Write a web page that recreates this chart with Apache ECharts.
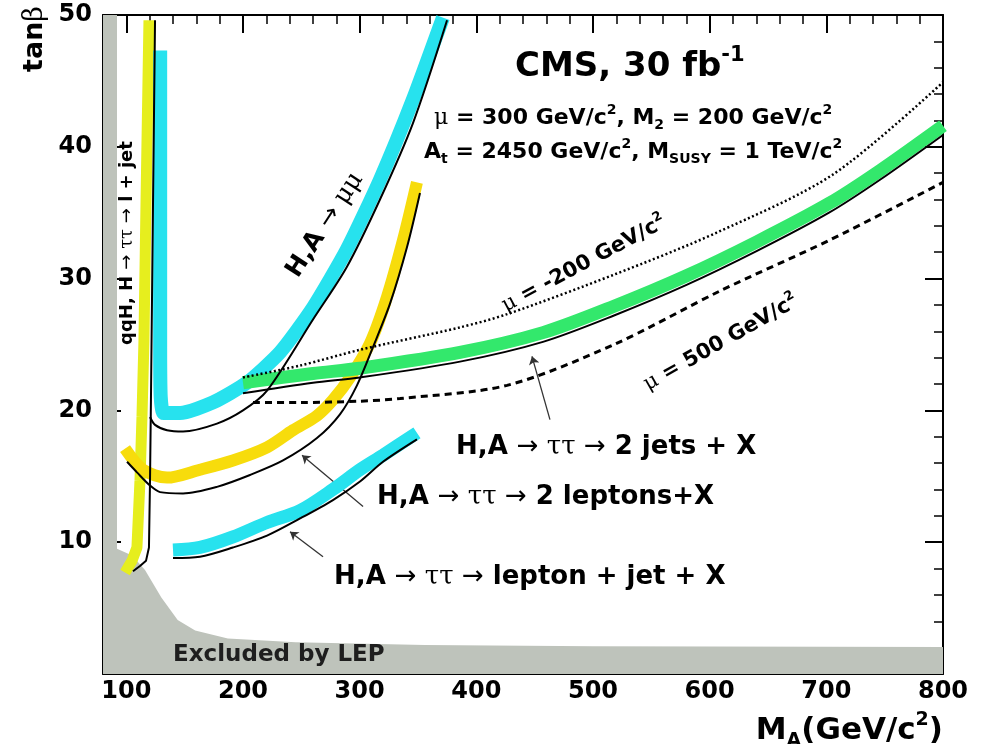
<!DOCTYPE html>
<html>
<head>
<meta charset="utf-8">
<script src="https://cdn.jsdelivr.net/npm/echarts@6/dist/echarts.min.js"></script>
<style>
  html, body { margin: 0; padding: 0; background: #fff; }
  #chart { width: 985px; height: 744px; }
</style>
</head>
<body>
<div id="chart"></div>
<script>
// tick values
var xMajorTicks = [100, 200, 300, 400, 500, 600, 700, 800];

// LEP excluded region (upper boundary)
var lepM   = [80, 92, 92, 105, 116, 130, 144, 159, 187, 245, 356, 500, 800];
var lepTan = [50, 50, 9.5, 9.0, 7.9, 5.8, 4.1, 3.3, 2.7, 2.4, 2.2, 2.1, 2.05];

// qqH, H -> tautau -> l + jet (yellow band + black contour)
var qqM        = [119.4, 116.9, 115.1, 113.4, 111.7, 109.1, 104.9, 98.9];
var qqTan      = [49.6, 36, 25.3, 19.5, 14.7, 9.6, 8.6, 7.7];
var qqBlackM   = [124.6, 122.9, 121.1, 120.3, 119.4, 116.9, 111.7, 105.7];
var qqBlackTan = [49.6, 36, 20.8, 14.7, 9.6, 8.6, 8.2, 7.8];

// H,A -> mumu
var mumuM        = [129, 129, 129, 129.5, 132, 146, 174.3, 203.4, 231.7, 260, 289, 317.4, 345.7, 371.4];
var mumuTan      = [47.3, 36, 25, 21, 19.8, 19.8, 20.6, 22.1, 24.4, 27.8, 32.2, 37.5, 43.6, 49.8];
var mumuBlackM   = [120.3, 124.6, 134.9, 148.6, 177.7, 200, 220.6, 260, 289.1, 317.4, 345.7, 374.9];
var mumuBlackTan = [19.5, 18.9, 18.5, 18.4, 19.0, 20.0, 21.5, 26.9, 30.9, 36.0, 41.8, 49.6];

// H,A -> tautau -> 2 leptons + X
var llM        = [98.9, 114.3, 134.9, 163.1, 191.4, 220.6, 242.9, 263.4, 277.1, 291.7, 308.9, 323.4, 337.1, 349.1];
var llTan      = [17.1, 15.5, 14.9, 15.5, 16.2, 17.2, 18.5, 19.6, 20.8, 22.5, 25.1, 28.6, 32.9, 37.3];
var llBlackM   = [100.6, 109.1, 120.3, 128.9, 148.6, 177.7, 206, 234.3, 263.4, 283.1, 297.7, 311.4, 326, 340.6, 351.7];
var llBlackTan = [16.1, 15.3, 14.3, 13.8, 13.7, 14.2, 15.1, 16.2, 17.9, 19.7, 21.9, 24.8, 28.1, 32.4, 36.5];

// H,A -> tautau -> lepton + jet + X
var ljM        = [140, 163.1, 191.4, 220.6, 248.9, 277.1, 300.3, 320, 349.1];
var ljTan      = [9.4, 9.6, 10.4, 11.5, 12.4, 14.0, 15.5, 16.6, 18.3];
var ljBlackTan = [8.8, 8.9, 9.6, 10.5, 11.8, 13.2, 14.6, 16.1, 17.8];

// H,A -> tautau -> 2 jets + X
var jjM        = [200, 260, 300.3, 386, 457.1, 518, 579.7, 640.6, 702.3, 746, 800];
var jjTan      = [22.1, 22.8, 23.2, 24.4, 25.9, 27.9, 30.2, 32.8, 35.7, 38.2, 41.6];
var jjBlackTan = [21.3, 22.1, 22.5, 23.7, 25.2, 27.2, 29.5, 32.1, 35.0, 37.5, 40.9];

// mu = -200 (dotted) and mu = 500 (dashed) variants
var muNegM   = [200, 248.9, 300.3, 386, 426.3, 518, 606.3, 705.7, 800];
var muNegTan = [22.5, 23.4, 24.6, 26.3, 27.3, 30.3, 33.5, 37.9, 44.9];
var mu500M   = [208.6, 248.9, 300.3, 334.6, 426.3, 518, 609.7, 702.3, 800];
var mu500Tan = [20.6, 20.6, 20.7, 20.9, 21.9, 25.0, 29.1, 32.9, 37.3];

// pointer arrows [from, to]
var arrowFrom = [[463.1, 19.3], [302.9, 12.7], [268.6, 8.9]];
var arrowTo   = [[447.7, 24.1], [250.6, 16.6], [240.3, 10.8]];

function zip(xs, ys) {
  return xs.map(function (x, i) { return [x, ys[i]]; });
}

function richStyles(size) {
  var lh = Math.round(size * 1.3);
  var small = Math.round(size * 0.62);
  return {
    b:   { fontFamily: 'DejaVu Sans', fontWeight: 'bold', fontSize: size, lineHeight: lh, fill: '#000' },
    g:   { fontFamily: 'DejaVu Serif', fontWeight: 'normal', fontSize: size, lineHeight: lh, fill: '#000' },
    a:   { fontFamily: 'DejaVu Sans', fontWeight: 'normal', fontSize: size, lineHeight: lh, fill: '#000' },
    sup: { fontFamily: 'DejaVu Sans', fontWeight: 'bold', fontSize: small, verticalAlign: 'top', fill: '#000' },
    sub: { fontFamily: 'DejaVu Sans', fontWeight: 'bold', fontSize: small, verticalAlign: 'bottom', fill: '#000' },
    lep: { fontFamily: 'DejaVu Sans', fontWeight: 'bold', fontSize: size, lineHeight: lh, fill: '#1e1e1e' }
  };
}

var labels = [
  { text: '{b|tan}{g|β}', x: 35, y: 39, size: 27, align: 'center', rot: 90 },
  { text: '{b|qqH, H }{a|→}{g| ττ }{a|→}{b| l + jet}', x: 127, y: 243, size: 18, align: 'center', rot: 90 },
  { text: '{b|H,A }{a|→}{g| μμ}', x: 325, y: 225, size: 25, align: 'center', rot: 57 },
  { text: '{b|CMS, 30 fb}{sup|-1}', x: 515, y: 67, size: 34, align: 'left', rot: 0 },
  { text: '{g|μ}{b| = 300 GeV/c}{sup|2}{b|, M}{sub|2}{b| = 200 GeV/c}{sup|2}', x: 434, y: 118, size: 22, align: 'left', rot: 0 },
  { text: '{b|A}{sub|t}{b| = 2450 GeV/c}{sup|2}{b|, M}{sub|SUSY}{b| = 1 TeV/c}{sup|2}', x: 424, y: 152, size: 22, align: 'left', rot: 0 },
  { text: '{g|μ}{b| = -200 GeV/c}{sup|2}', x: 584, y: 264, size: 21, align: 'center', rot: 28 },
  { text: '{g|μ}{b| = 500 GeV/c}{sup|2}', x: 721, y: 343, size: 21, align: 'center', rot: 29.5 },
  { text: '{b|H,A }{a|→}{g| ττ }{a|→}{b| 2 jets + X}', x: 456, y: 447, size: 26, align: 'left', rot: 0 },
  { text: '{b|H,A }{a|→}{g| ττ }{a|→}{b| 2 leptons+X}', x: 377, y: 497, size: 26, align: 'left', rot: 0 },
  { text: '{b|H,A }{a|→}{g| ττ }{a|→}{b| lepton + jet + X}', x: 334, y: 577, size: 26, align: 'left', rot: 0 },
  { text: '{lep|Excluded by LEP}', x: 173, y: 655, size: 23, align: 'left', rot: 0 },
  { text: '{b|M}{sub|A}{b|(GeV/c}{sup|2}{b|)}', x: 943, y: 731, size: 31, align: 'right', rot: 0 }
];

var chart = echarts.init(document.getElementById('chart'), null, { renderer: 'canvas' });

var tickFont = { fontFamily: 'DejaVu Sans', fontWeight: 'bold', fontSize: 24, color: '#000' };
var frameLine = { onZero: false, lineStyle: { color: '#000', width: 2 } };

function xAxisPair(pos, withLabels) {
  return [
    {
      type: 'value', position: pos, min: 80, max: 800, interval: 20,
      axisLine: frameLine,
      axisTick: { inside: true, length: 9, lineStyle: { color: '#000', width: 1.5 } },
      axisLabel: withLabels ? Object.assign({
        margin: 6,
        formatter: function (v) { return v % 100 === 0 ? String(v) : ''; }
      }, tickFont) : { show: false },
      splitLine: { show: false }
    },
    {
      type: 'value', position: pos, min: 80, max: 800,
      axisLine: { show: false, onZero: false },
      axisTick: { inside: true, length: 18, customValues: xMajorTicks, lineStyle: { color: '#000', width: 2 } },
      axisLabel: { show: false },
      splitLine: { show: false }
    }
  ];
}

function yAxisDef(pos, withLabels) {
  return {
    type: 'value', position: pos, min: 0, max: 50, interval: 10,
    axisLine: frameLine,
    axisTick: { inside: true, length: 18, lineStyle: { color: '#000', width: 2 } },
    minorTick: { show: true, splitNumber: 5, length: 9, lineStyle: { color: '#000', width: 1.5 } },
    axisLabel: withLabels ? Object.assign({
      margin: 11,
      formatter: function (v) { return v === 0 ? '' : String(v); }
    }, tickFont) : { show: false },
    splitLine: { show: false },
    minorSplitLine: { show: false }
  };
}

function band(name, xs, ys, color, width, smooth) {
  return {
    name: name, type: 'line', data: zip(xs, ys), symbol: 'none', smooth: smooth,
    lineStyle: { color: color, width: width }, silent: true
  };
}

function contour(name, xs, ys, type, width, smooth) {
  return {
    name: name, type: 'line', data: zip(xs, ys), symbol: 'none', smooth: smooth,
    lineStyle: { color: '#000', width: width, type: type }, silent: true
  };
}

var option = {
  backgroundColor: '#fff',
  animation: false,
  grid: { left: 103, right: 42, top: 15, bottom: 70, containLabel: false },
  xAxis: xAxisPair('bottom', true).concat(xAxisPair('top', false)),
  yAxis: [yAxisDef('left', true), yAxisDef('right', false)],
  series: [
    {
      name: 'Excluded by LEP', type: 'line', data: zip(lepM, lepTan), symbol: 'none',
      lineStyle: { width: 0 }, areaStyle: { color: '#bec3bb', opacity: 1 }, silent: true
    },
    band('qqH yellow', qqM, qqTan, '#e6ee1e', 11, false),
    band('2 leptons yellow', llM, llTan, '#f7dc0c', 12, 0.3),
    band('mumu cyan', mumuM, mumuTan, '#27e2ee', 14, 0.2),
    band('lepton jet cyan', ljM, ljTan, '#27e2ee', 13, 0.3),
    band('2 jets green', jjM, jjTan, '#33e86c', 13, 0.3),
    contour('qqH line', qqBlackM, qqBlackTan, 'solid', 2, false),
    contour('mumu line', mumuBlackM, mumuBlackTan, 'solid', 2, 0.3),
    contour('2 leptons line', llBlackM, llBlackTan, 'solid', 2, 0.3),
    contour('lepton jet line', ljM, ljBlackTan, 'solid', 2, 0.3),
    contour('2 jets line', jjM, jjBlackTan, 'solid', 2, 0.3),
    contour('mu -200', muNegM, muNegTan, [2, 2.5], 2.5, 0.3),
    contour('mu 500', mu500M, mu500Tan, [7, 5], 3, 0.3),
    {
      name: 'arrows', type: 'lines', coordinateSystem: 'cartesian2d', xAxisIndex: 0, yAxisIndex: 0,
      symbol: ['none', 'arrow'], symbolSize: 8,
      lineStyle: { color: '#333', width: 1.3, opacity: 1 },
      data: arrowFrom.map(function (p, i) { return { coords: [p, arrowTo[i]] }; }),
      silent: true
    }
  ],
  graphic: labels.map(function (l) {
    return {
      type: 'text', x: l.x, y: l.y, rotation: l.rot * Math.PI / 180, z: 100,
      style: {
        text: l.text, rich: richStyles(l.size),
        align: l.align, textAlign: l.align,
        verticalAlign: 'middle', textVerticalAlign: 'middle'
      }
    };
  })
};

chart.setOption(option);
</script>
</body>
</html>
